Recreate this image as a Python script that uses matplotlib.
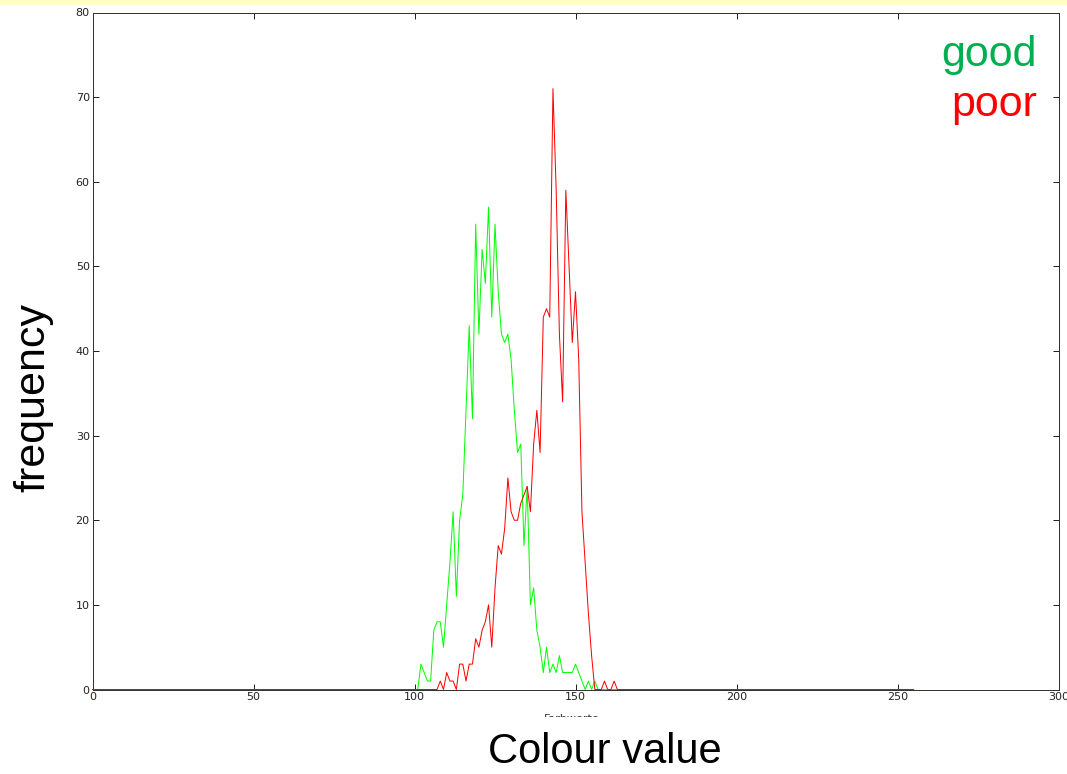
import numpy as np
import matplotlib
matplotlib.use("Agg")
import matplotlib.pyplot as plt
from matplotlib.patches import Rectangle

# ---- data (colour value 0..255) ----
colour_values = np.arange(0, 256)

good_start = 102
good_counts = [3, 2, 1, 1, 7, 8, 8, 5, 10, 15, 21, 11, 20, 23, 33, 43, 32, 55,
               42, 52, 48, 57, 44, 55, 47, 42, 41, 42, 39, 33, 28, 29, 17, 24,
               10, 12, 7, 5, 2, 5, 2, 3, 2, 4, 2, 2, 2, 2, 3, 2, 1, 0, 1, 0, 1, 0]

poor_start = 107
poor_counts = [0, 1, 0, 2, 1, 1, 0, 3, 3, 1, 3, 3, 6, 5, 7, 8, 10, 5, 12, 17,
               16, 19, 25, 21, 20, 20, 22, 23, 24, 21, 29, 33, 28, 44, 45, 44,
               71, 59, 42, 34, 59, 50, 41, 47, 39, 21, 15, 9, 4, 0, 0, 0, 1, 0,
               0, 1, 0]

x_ticks = [0, 50, 100, 150, 200, 250, 300]
y_ticks = [0, 10, 20, 30, 40, 50, 60, 70, 80]

good = np.zeros(len(colour_values))
good[good_start:good_start + len(good_counts)] = good_counts
poor = np.zeros(len(colour_values))
poor[poor_start:poor_start + len(poor_counts)] = poor_counts

# ---- figure ----
W, H = 1067, 774
fig = plt.figure(figsize=(W / 100, H / 100), dpi=100)
fig.patch.set_facecolor("white")

ax = fig.add_axes([92.5 / W, (H - 689.5) / H, (1058 - 92) / W, (689.5 - 12.5) / H])
ax.plot(colour_values, good, color="#00ff00", lw=0.72, clip_on=False, zorder=3)
ax.plot(colour_values, poor, color="#ff0000", lw=0.72, clip_on=False, zorder=4)

ax.set_xlim(0, 300)
ax.set_ylim(0, 80)
ax.set_xticks(x_ticks)
ax.set_yticks(y_ticks)
ax.tick_params(direction="in", length=4, width=0.72, top=True, right=True,
               labelsize=8, colors="#222222", pad=2)
for s in ax.spines.values():
    s.set_color("#333333")
    s.set_linewidth(0.72)
    s.set_zorder(2)
for lab in ax.get_xticklabels() + ax.get_yticklabels():
    lab.set_family("DejaVu Sans")

# faint German x label, mostly hidden below
fig.text(572 / W, 1 - 719 / H, "Farbwerte", fontsize=8, color="#333333",
         ha="center", va="center")
fig.patches.append(Rectangle((0, 0), 1, 1 - 717 / H, transform=fig.transFigure,
                             facecolor="white", edgecolor="none", zorder=5))

# large slide labels
fig.text(605 / W, 1 - 752 / H, "Colour value", fontsize=30, color="black",
         ha="center", va="center", family="Liberation Sans", zorder=6)
fig.text(33 / W, 1 - 398 / H, "frequency", fontsize=31, color="black",
         ha="center", va="center", rotation=90, family="Liberation Sans", zorder=6)
ax.text(1037 / W, 1 - 55 / H, "good", transform=fig.transFigure, fontsize=31,
        color="#00b050", ha="right", va="center", family="Liberation Sans")
ax.text(1037 / W, 1 - 105 / H, "poor", transform=fig.transFigure, fontsize=31,
        color="#ff0000", ha="right", va="center", family="Liberation Sans")

# yellow strip on top
fig.patches.append(Rectangle((0, 1 - 5 / H), 1, 5 / H, transform=fig.transFigure,
                             facecolor="#ffffcc", edgecolor="none", zorder=6))

fig.savefig("out.png", dpi=100)
